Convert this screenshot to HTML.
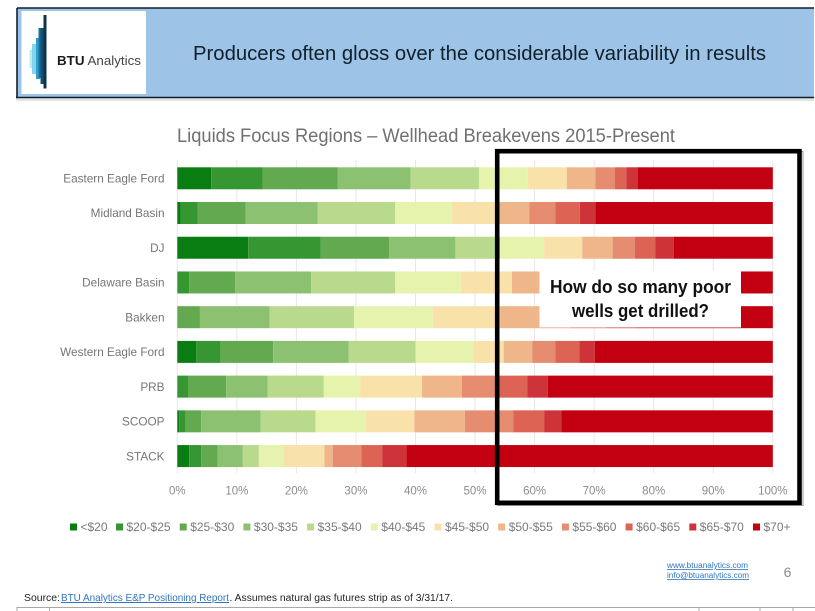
<!DOCTYPE html>
<html lang="en">
<head>
<meta charset="utf-8">
<title>Liquids Focus Regions – Wellhead Breakevens 2015-Present</title>
<style>
html,body{margin:0;padding:0;background:#fff;}
body{width:815px;height:611px;overflow:hidden;}
svg{display:block;filter:blur(0.35px);font-family:"Liberation Sans",sans-serif;}
</style>
</head>
<body>
<svg id="slide" xmlns="http://www.w3.org/2000/svg" width="815" height="611" viewBox="0 0 815 611">
  <rect x="0" y="0" width="815" height="611" fill="#ffffff"/>

  <g>
    <rect x="16" y="98" width="798" height="3" fill="#e4e4e4"/>
    <rect x="16.5" y="8" width="797.5" height="89.5" fill="#9dc3e6"/>
    <path d="M17 8H814M17 8V97M16 97.5H814" stroke="#12202c" stroke-width="1.6" fill="none"/>
    <rect x="21.5" y="11" width="124.5" height="83" fill="#ffffff"/>
    <g>
      <rect x="29.5" y="50" width="5" height="18" fill="#b5ecf7"/>
      <rect x="32" y="44" width="6" height="30" fill="#7fd6ee"/>
      <rect x="36" y="38" width="4" height="41" fill="#2f9fd0"/>
      <rect x="38.5" y="28" width="3" height="50" fill="#1a6f9d"/>
      <rect x="40.5" y="28" width="3" height="56" fill="#134f70"/>
      <rect x="43.5" y="15" width="3" height="73.5" fill="#0e3348"/>
    </g>
    <text x="57" y="65" font-size="13" fill="#444" textLength="84" lengthAdjust="spacingAndGlyphs"><tspan font-weight="700" fill="#1a1a1a">BTU</tspan> Analytics</text>
    <text x="193" y="60" font-size="20.5" fill="#10202c" textLength="573" lengthAdjust="spacingAndGlyphs">Producers often gloss over the considerable variability in results</text>
  </g>

  <text x="177" y="142" font-size="19" fill="#707070" textLength="498" lengthAdjust="spacingAndGlyphs">Liquids Focus Regions – Wellhead Breakevens 2015-Present</text>

  <g id="gridlines"></g>
  <g id="bars"></g>
  <g id="category-labels"></g>
  <g id="tick-labels"></g>
  <g id="legend"></g>

  <g>
    <rect x="539.5" y="271" width="201.5" height="56.5" fill="#ffffff"/>
    <text x="550" y="293" font-size="18" font-weight="700" fill="#111" textLength="181" lengthAdjust="spacingAndGlyphs">How do so many poor</text>
    <text x="572" y="317" font-size="18" font-weight="700" fill="#111" textLength="137" lengthAdjust="spacingAndGlyphs">wells get drilled?</text>
  </g>
  <rect x="497.5" y="151.5" width="305.5" height="354" fill="none" stroke="#9a9a9a" stroke-width="1"/>
  <rect x="497.2" y="151.2" width="302.3" height="351.6" fill="none" stroke="#000000" stroke-width="4.6"/>

  <g>
    <text x="667" y="568" font-size="8" fill="#2f75c0" text-decoration="underline" textLength="81" lengthAdjust="spacingAndGlyphs">www.btuanalytics.com</text>
    <text x="667" y="578" font-size="8" fill="#2f75c0" text-decoration="underline" textLength="82" lengthAdjust="spacingAndGlyphs">info@btuanalytics.com</text>
  </g>
  <text x="787.5" y="577" font-size="14" fill="#8a8a8a" text-anchor="middle">6</text>

  <g>
    <text x="24" y="601" font-size="10" fill="#222" textLength="36" lengthAdjust="spacingAndGlyphs">Source:</text>
    <text x="61" y="601" font-size="10" fill="#2f75c0" text-decoration="underline" textLength="168" lengthAdjust="spacingAndGlyphs">BTU Analytics E&amp;P Positioning Report</text>
    <text x="229.5" y="601" font-size="10" fill="#222" textLength="223.5" lengthAdjust="spacingAndGlyphs">.  Assumes natural gas futures strip as of 3/31/17.</text>
  </g>

  <path d="M17 607.5H815M17 607V611M49.5 607V611M699 607V611M760 607V611M793 607V611" stroke="#a8a8a8" stroke-width="1" fill="none"/>
</svg>

<script>
const categories = ['Eastern Eagle Ford', 'Midland Basin', 'DJ', 'Delaware Basin', 'Bakken', 'Western Eagle Ford', 'PRB', 'SCOOP', 'STACK'];
const priceBands = ['<$20', '$20-$25', '$25-$30', '$30-$35', '$35-$40', '$40-$45', '$45-$50', '$50-$55', '$55-$60', '$60-$65', '$65-$70', '$70+'];
const bandColors = ['#0a7d12', '#369732', '#62a94f', '#8dc172', '#b9d98d', '#e6f3ad', '#f8e2a9', '#efb68a', '#e58c71', '#dd6455', '#cd3338', '#c30012'];
const tickValues = [0, 10, 20, 30, 40, 50, 60, 70, 80, 90, 100];

const easternEagleFord = [5.7, 8.6, 12.6, 12.3, 11.5, 8.15, 6.55, 4.8, 3.3, 1.9, 1.9, 22.7];
const midlandBasin = [0.6, 2.8, 8.1, 12.1, 13, 9.5, 7.8, 5.2, 4.4, 4.1, 2.6, 29.8];
const dj = [11.9, 12.2, 11.5, 11.1, 7.5, 7.4, 6.4, 5.1, 3.7, 3.5, 3.1, 16.6];
const delawareBasin = [0, 2, 7.7, 12.8, 14.1, 11, 8.6, 4.6, 4.2, 4, 3, 28];
const bakken = [0, 0, 3.8, 11.7, 14.2, 13.2, 11.3, 6.6, 5.2, 6, 5, 23];
const westernEagleFord = [3.2, 4.1, 8.8, 12.7, 11.2, 9.7, 5.1, 4.8, 3.9, 4, 2.6, 29.9];
const prb = [0, 1.8, 6.4, 7, 9.4, 6.1, 10.4, 6.7, 5.8, 5.2, 3.4, 37.8];
const scoop = [0.3, 1.1, 2.6, 10, 9.2, 8.5, 8.1, 8.5, 8.1, 5.2, 2.9, 35.5];
const stack = [2, 2, 2.8, 4.2, 2.7, 4.1, 6.9, 1.4, 4.8, 3.5, 4.1, 61.5];
const regionValues = [easternEagleFord, midlandBasin, dj, delawareBasin, bakken, westernEagleFord, prb, scoop, stack];

const SVG_NS = 'http://www.w3.org/2000/svg';
const PLOT_LEFT = 177.3;
const PLOT_RIGHT = 772.8;
const ROW_TOP = 167.3;
const ROW_STEP = 34.72;
const BAR_HEIGHT = 22;

function xScale(percent) {
  return PLOT_LEFT + (PLOT_RIGHT - PLOT_LEFT) * percent / 100;
}
function yScale(index) {
  return ROW_TOP + ROW_STEP * index;
}
function make(tag) {
  return document.createElementNS(SVG_NS, tag);
}
function setAll(el, attrs) {
  Object.keys(attrs).forEach(function (k) { el.setAttribute(k, attrs[k]); });
}

const gridGroup = document.getElementById('gridlines');
const tickGroup = document.getElementById('tick-labels');
tickValues.forEach(function (tick) {
  const line = make('line');
  
  
  setAll(line, { x1: xScale(tick), x2: xScale(tick), y1: 160, y2: 473, stroke: '#e8e8e8', 'stroke-width': 1 });
  gridGroup.appendChild(line);

  const label = make('text');
  
  
  setAll(label, { x: xScale(tick), y: 494.5, 'font-size': 11.5, fill: '#8c8c8c', 'text-anchor': 'middle' });
  label.textContent = tick + '%';
  tickGroup.appendChild(label);
});

const barGroup = document.getElementById('bars');
const categoryGroup = document.getElementById('category-labels');
regionValues.forEach(function (values, row) {
  let running = 0;
  values.forEach(function (value, band) {
    const seg = make('rect');
    
    
    setAll(seg, {
      x: xScale(running),
      y: yScale(row),
      width: xScale(running + value) - xScale(running),
      height: BAR_HEIGHT,
      fill: bandColors[band]
    });
    const tip = make('title');
    tip.textContent = categories[row] + ' ' + priceBands[band] + ': ' + value + '%';
    seg.appendChild(tip);
    barGroup.appendChild(seg);
    running += value;
  });

  const name = make('text');
  
  
  setAll(name, {
    transform: 'translate(164.5 ' + (yScale(row) + 15.2) + ') scale(0.98 1)',
    'font-size': 12,
    fill: '#757575',
    'text-anchor': 'end'
  });
  name.textContent = categories[row];
  categoryGroup.appendChild(name);
});

const legendGroup = document.getElementById('legend');
priceBands.forEach(function (band, i) {
  const left = i === 0 ? 70 : 116 + (i - 1) * 63.7;
  const swatch = make('rect');
  
  
  setAll(swatch, { x: left, y: 523.5, width: 7, height: 7, fill: bandColors[i] });
  legendGroup.appendChild(swatch);

  const label = make('text');
  
  
  setAll(label, {
    transform: 'translate(' + (left + 10.5) + ' 531) scale(1 1)',
    'font-size': 12,
    fill: '#7a7a7a'
  });
  label.textContent = band;
  legendGroup.appendChild(label);
});
</script>
</body>
</html>
